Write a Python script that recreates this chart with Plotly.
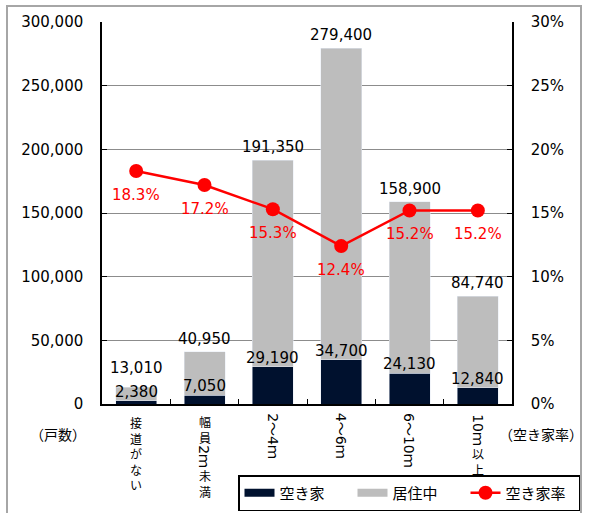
import plotly.graph_objects as go

# ---- data ----
categories = ["接道がない", "幅員2ｍ未満", "2～4ｍ", "4～6ｍ", "6～10ｍ", "10ｍ以上"]
total_houses = [13010, 40950, 191350, 279400, 158900, 84740]
vacant_houses = [2380, 7050, 29190, 34700, 24130, 12840]
vacancy_rate = [0.183, 0.172, 0.153, 0.124, 0.152, 0.152]
occupied_houses = [t - v for t, v in zip(total_houses, vacant_houses)]

W, H = 590, 513
L, R, T, B = 102, 78, 22, 109
PW, PH = W - L - R, H - T - B
YMAX = 300000

NUM_FONT = "DejaVu Sans, Noto Sans CJK JP"
CJK_FONT = "Noto Sans CJK JP"
NAVY = "#00112E"
GRAY = "#BDBDBD"
RED = "#FF0000"


def px2paper_x(px):
    return (px - L) / PW


def px2paper_y(py):
    return (H - B - py) / PH


fig = go.Figure()
fig.add_trace(go.Bar(x=categories, y=vacant_houses, marker_color=NAVY, width=0.6,
                     showlegend=False, name="空き家", yaxis="y"))
fig.add_trace(go.Bar(x=categories, y=occupied_houses, marker_color=GRAY, width=0.6,
                     showlegend=False, name="居住中", yaxis="y"))
# legend swatches
fig.add_trace(go.Scatter(x=[None], y=[None], mode="lines", line=dict(color=NAVY, width=8),
                         name="空き家"))
fig.add_trace(go.Scatter(x=[None], y=[None], mode="lines", line=dict(color=GRAY, width=8),
                         name="居住中"))
fig.add_trace(go.Scatter(x=categories, y=vacancy_rate, mode="lines+markers", yaxis="y2",
                         line=dict(color=RED, width=2.5),
                         marker=dict(color=RED, size=14), name="空き家率"))

ann = []
scale = PH / YMAX
for c, t, v, r in zip(categories, total_houses, vacant_houses, vacancy_rate):
    ann.append(dict(x=c, y=v, xref="x", yref="y", text=f"{v:,}", showarrow=False,
                    yanchor="middle", yshift=9, font=dict(family=NUM_FONT, size=15, color="black")))
    vac_lab = v * scale + 9
    tot_px = t * scale
    shift = max(13, vac_lab + 24 - tot_px)
    ann.append(dict(x=c, y=t, xref="x", yref="y", text=f"{t:,}", showarrow=False,
                    yanchor="middle", yshift=shift, font=dict(family=NUM_FONT, size=15, color="black")))
    ann.append(dict(x=c, y=r, xref="x", yref="y2", text=f"{r*100:.1f}%", showarrow=False,
                    yanchor="middle", yshift=-24, font=dict(family=NUM_FONT, size=15, color=RED)))


# vertical (tategaki) category labels
def is_rot(ch):
    return ch.isascii() or (0xFF01 <= ord(ch) <= 0xFF5E)


def ch_adv(ch):
    return 9.0 if ch.isascii() else 12.0


UP_SIZE = 12
UP_PITCH = UP_SIZE * 1.3

for c in categories:
    cursor = 10.0
    runs = []
    for ch in c:
        kind = "rot" if is_rot(ch) else "up"
        if runs and runs[-1][0] == kind:
            runs[-1][1].append(ch)
        else:
            runs.append([kind, [ch]])
    for kind, chars in runs:
        if kind == "up":
            adv = UP_PITCH * len(chars)
            ann.append(dict(x=c, y=0, xref="x", yref="paper", text="<br>".join(chars),
                            showarrow=False, yanchor="middle", yshift=-(cursor + adv / 2),
                            borderpad=0,
                            font=dict(family=CJK_FONT, size=UP_SIZE, color="black")))
        else:
            adv = sum(ch_adv(ch) for ch in chars) + 2
            ann.append(dict(x=c, y=0, xref="x", yref="paper", text="".join(chars),
                            showarrow=False, textangle=90, yanchor="middle",
                            yshift=-(cursor + adv / 2), borderpad=0,
                            font=dict(family=NUM_FONT, size=14, color="black")))
        cursor += adv

ann.append(dict(x=px2paper_x(58), y=px2paper_y(434), xref="paper", yref="paper",
                text="（戸数）", showarrow=False, xanchor="center", yanchor="middle",
                font=dict(family=CJK_FONT, size=14, color="black")))
ann.append(dict(x=px2paper_x(541), y=px2paper_y(434), xref="paper", yref="paper",
                text="（空き家率）", showarrow=False, xanchor="center", yanchor="middle",
                font=dict(family=CJK_FONT, size=14, color="black")))

shapes = [dict(type="rect", xref="paper", yref="paper",
               x0=px2paper_x(7), x1=px2paper_x(581), y0=px2paper_y(530), y1=px2paper_y(6),
               line=dict(color="#A6A6A6", width=2), layer="below")]

fig.update_layout(
    width=W, height=H, margin=dict(l=L, r=R, t=T, b=B),
    paper_bgcolor="white", plot_bgcolor="white",
    barmode="stack", bargap=0.4,
    font=dict(family=NUM_FONT, size=15, color="black"),
    xaxis=dict(type="category", categoryorder="array", categoryarray=categories,
               range=[-0.5, 5.5], showticklabels=False, ticks="inside", tickson="boundaries",
               ticklen=5, tickcolor="black", showline=True, linecolor="black", linewidth=1.5,
               showgrid=False, zeroline=False),
    yaxis=dict(range=[0, YMAX], dtick=50000, tickformat=",", ticks="inside", ticklen=5,
               tickcolor="black", showgrid=True, gridcolor="#8C8C8C", gridwidth=1,
               showline=True, linecolor="black", linewidth=1.5, zeroline=False,
               ticklabelstandoff=14, tickfont=dict(family=NUM_FONT, size=15)),
    yaxis2=dict(range=[0, 0.30], dtick=0.05, tickformat=".0%", overlaying="y", side="right",
                ticks="inside", ticklen=5, tickcolor="black", showgrid=False,
                showline=True, linecolor="black", linewidth=1.5, zeroline=False,
                ticklabelstandoff=14, tickfont=dict(family=NUM_FONT, size=15)),
    legend=dict(orientation="h", xref="container", yref="container", traceorder="normal",
                x=580 / W, xanchor="right", y=2 / H, yanchor="bottom",
                bordercolor="black", borderwidth=1.5, bgcolor="white",
                entrywidth=68, entrywidthmode="pixels",
                font=dict(family=CJK_FONT, size=15, color="black"), itemwidth=30),
    annotations=ann, shapes=shapes,
)

fig.write_html("out.html")
